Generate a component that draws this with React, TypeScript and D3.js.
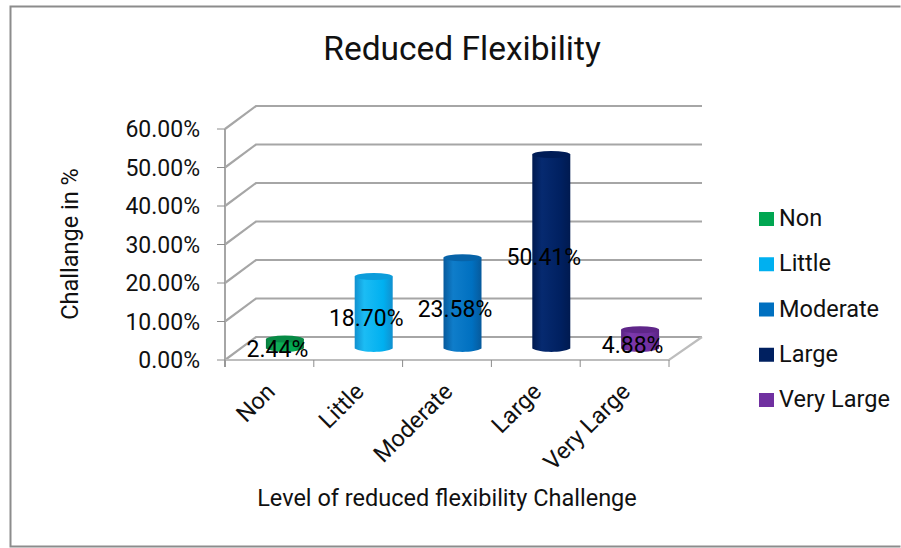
import * as d3 from "d3";

const categories = ["Non", "Little", "Moderate", "Large", "Very Large"];
const values = [2.44, 18.7, 23.58, 50.41, 4.88];
const valueLabels = ["2.44%", "18.70%", "23.58%", "50.41%", "4.88%"];
const yTicks = [0, 10, 20, 30, 40, 50, 60];
const yTickLabels = ["0.00%", "10.00%", "20.00%", "30.00%", "40.00%", "50.00%", "60.00%"];
const barLight = ["#12b058", "#1cbcf4", "#0f7dca", "#062a70", "#7d38ab"];
const barBase = ["#00a651", "#00b0f0", "#0070c0", "#002060", "#7030a0"];
const barDark = ["#067a3c", "#1190cf", "#075a9c", "#001a50", "#5a2484"];
const capFill = ["#078a45", "#0c9ddb", "#0763a8", "#001c56", "#5f2689"];

const FONT = "Roboto, Lato, sans-serif";
const GRID = "#a6a6a6";
const depthX = 31;
const depthY = -23;
const barRx = 19;
const barRy = 3.5;

const x = d3.scaleBand<string>().domain(categories).range([225, 669]);
const y = d3.scaleLinear().domain([0, 60]).range([360, 129]);
const centre = (c: string) => (x(c) as number) + x.bandwidth() / 2;

// A cylinder stands halfway into the floor depth.
const barCx = (c: string) => centre(c) + depthX / 2;
const barY = (v: number) => y(v) + depthY / 2;

function cylinder(cx: number, top: number, bottom: number) {
  const p = d3.path();
  p.moveTo(cx - barRx, top);
  p.lineTo(cx - barRx, bottom);
  p.bezierCurveTo(cx - barRx * 0.6, bottom + barRy * 1.3, cx + barRx * 0.6, bottom + barRy * 1.3, cx + barRx, bottom);
  p.lineTo(cx + barRx, top);
  p.closePath();
  return p.toString();
}

export default function App() {
  const base = barY(0);
  return (
    <svg
      width={901}
      height={548}
      viewBox="0 0 901 548"
      style={{ position: "absolute", left: 0, top: 0, background: "#fff" }}
      fontFamily={FONT}
      fill="#111"
    >
      <defs>
        {categories.map((c, i) => (
          <linearGradient key={c} id={`cyl${i}`} x1="0" x2="1" y1="0" y2="0">
            <stop offset="0" stopColor={barDark[i]} />
            <stop offset="0.25" stopColor={barLight[i]} />
            <stop offset="0.75" stopColor={barBase[i]} />
            <stop offset="1" stopColor={barDark[i]} />
          </linearGradient>
        ))}
      </defs>

      {/* outer frame: the right side runs off the canvas */}
      <path d="M900.5 6.5H10.5V546.5H900.5" fill="none" stroke="#8c8c8c" strokeWidth={2} />

      <text x={462} y={60} textAnchor="middle" fontSize={33.5}>Reduced Flexibility</text>

      {/* back-wall gridlines with their side-wall returns */}
      {yTicks.map((t) => (
        <path
          key={t}
          d={`M${225} ${y(t)}L${225 + depthX} ${y(t) + depthY}H702`}
          fill="none"
          stroke={GRID}
          strokeWidth={2.2}
        />
      ))}

      {/* floor and value axis */}
      <path d={`M225 ${y(0)}H669L702 ${y(0) + depthY}`} fill="none" stroke="#bdbdbd" strokeWidth={2.2} />
      <line x1={225} x2={225} y1={y(60)} y2={y(0) + 7} stroke={GRID} strokeWidth={2} />
      {yTicks.map((t, i) => (
        <g key={t}>
          <line x1={217} x2={225} y1={y(t)} y2={y(t)} stroke="#8c8c8c" />
          <text x={200} y={y(t) + 8} textAnchor="end" fontSize={23}>{yTickLabels[i]}</text>
        </g>
      ))}
      {[...categories.map((c) => x(c) as number), 669].map((tx) => (
        <line key={tx} x1={tx} x2={tx} y1={y(0)} y2={y(0) + 7} stroke="#8c8c8c" />
      ))}

      {/* cylinders */}
      {categories.map((c, i) => {
        const cx = barCx(c);
        const top = barY(values[i]);
        return (
          <g key={c}>
            <path d={cylinder(cx, top, base)} fill={`url(#cyl${i})`} />
            <ellipse cx={cx} cy={top} rx={barRx} ry={barRy} fill={capFill[i]} />
          </g>
        );
      })}

      {/* value labels sit just under the middle of each cylinder */}
      {categories.map((c, i) => (
        <text
          key={c}
          x={barCx(c) - 7.5}
          y={(barY(values[i]) + base) / 2 + 13.5}
          textAnchor="middle"
          fontSize={23}
          fill="#000"
        >
          {valueLabels[i]}
        </text>
      ))}

      {/* slanted category labels */}
      {categories.map((c) => (
        <text
          key={c}
          transform={`translate(${centre(c) + 7},${393}) rotate(-45)`}
          textAnchor="end"
          fontSize={23.5}
        >
          {c}
        </text>
      ))}

      <text x={447} y={506} textAnchor="middle" fontSize={23.5}>Level of reduced flexibility Challenge</text>
      <text transform="translate(78,244) rotate(-90)" textAnchor="middle" fontSize={23.5}>Challange in %</text>

      {/* legend */}
      {categories.map((c, i) => (
        <g key={c} transform={`translate(759,${212 + i * 45.25})`}>
          <rect width={15} height={14} fill={barBase[i]} />
          <text x={20} y={14} fontSize={23.5}>{c}</text>
        </g>
      ))}
    </svg>
  );
}
